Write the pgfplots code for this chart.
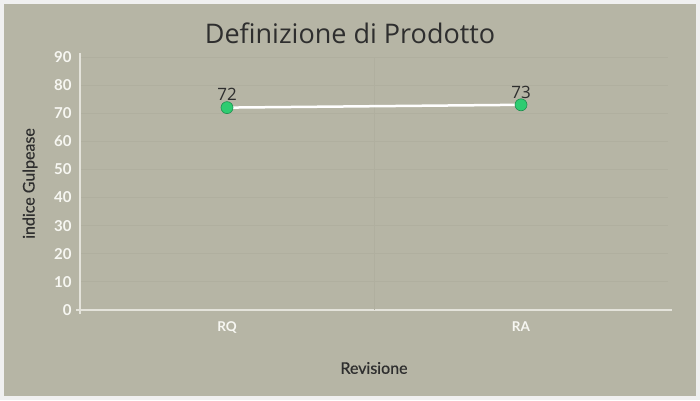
\documentclass[border=0pt]{standalone}
\usepackage{pgfplots}
\pgfplotsset{compat=1.18}
\usepackage{fontspec}
\setmainfont{Lato}
\newfontfamily\titlefont{Open Sans}
\newfontfamily\medfont[FakeBold=0.5]{Lato}
\definecolor{bgout}{HTML}{F0F0F0}
\definecolor{bgin}{HTML}{B6B5A5}
\definecolor{gridc}{HTML}{B0AF9F}
\definecolor{axc}{HTML}{E4E3DB}
\definecolor{tickc}{HTML}{F7F7F2}
\definecolor{darktxt}{HTML}{2E2E2E}
\definecolor{mk}{HTML}{2ECC71}
\definecolor{mkd}{HTML}{1E8E4E}
\begin{document}
\begin{tikzpicture}[x=1pt,y=1pt]
\fill[bgout] (0,0) rectangle (700,400);
\fill[bgin] (4,4) rectangle (696,396);
\path[use as bounding box] (0,0) rectangle (700,400);
\node[font=\titlefont\fontsize{27}{30}\selectfont, text=darktxt] at (350,367) {Definizione di Prodotto};
\begin{axis}[
  at={(80pt,90pt)}, anchor=south west,
  scale only axis, width=588pt, height=253pt,
  xmin=-0.5, xmax=1.5, ymin=0, ymax=90,
  xtick={0,1}, xticklabels={RQ,RA},
  extra x ticks={0.5}, extra x tick labels={},
  extra x tick style={grid=major, major grid style={gridc, line width=0.8pt}},
  ytick={0,10,...,90},
  ymajorgrids, major grid style={gridc, line width=0.8pt},
  major tick length=0pt,
  axis lines=left,
  axis line style={-, axc, line width=1.8pt, shorten <=-4pt, shorten >=-4pt},
  x axis line style={line width=2pt},
  y axis line style={line width=1.5pt},
  tick label style={text=tickc, font=\fontsize{15}{16}\selectfont\bfseries},
  xticklabel style={font=\fontsize{13.5}{14}\selectfont\bfseries, yshift=-8pt},
  yticklabel style={xshift=-5pt},
  /pgf/number format/assume math mode=true,
  xlabel={Revisione}, ylabel={indice Gulpease},
  every axis x label/.style={at={(axis description cs:0.5,0)}, yshift=-58pt, anchor=center, text=darktxt, font=\medfont\fontsize{16}{18}\selectfont},
  every axis y label/.style={at={(axis description cs:0,0.5)}, xshift=-50pt, anchor=center, rotate=90, text=darktxt, font=\medfont\fontsize{16}{18}\selectfont},
  clip=false,
]
\addplot[white, line width=2.5pt, mark=*, mark size=6pt,
  mark options={fill=mk, draw=mkd, line width=0.6pt},
  nodes near coords, every node near coord/.append style={text=darktxt, font=\titlefont\fontsize{17}{18}\selectfont, yshift=3pt}]
  coordinates {(0,72) (1,73)};
\end{axis}
\end{tikzpicture}
\end{document}
